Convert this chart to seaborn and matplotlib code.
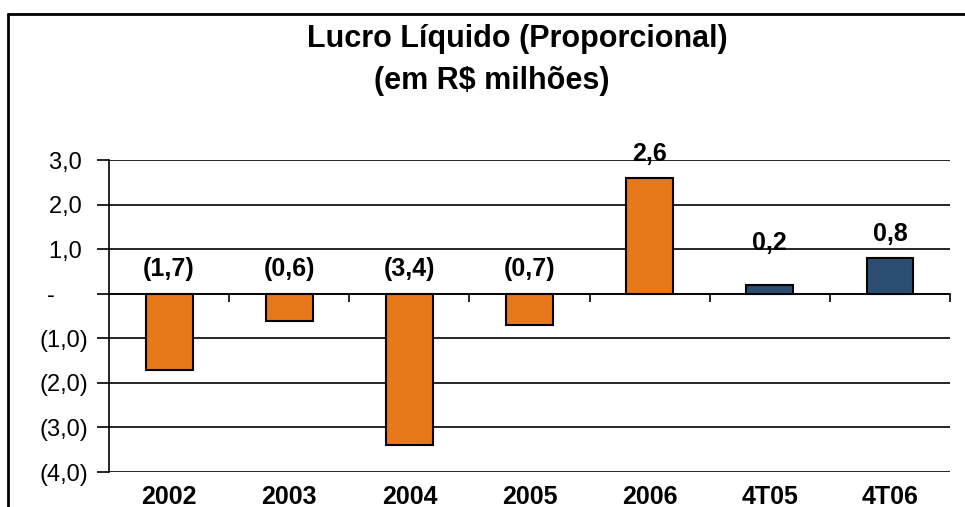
import matplotlib
matplotlib.use('Agg')
import matplotlib.pyplot as plt
from matplotlib.lines import Line2D
import seaborn as sns
import pandas as pd

# Dados do gráfico (R$ milhões)
categorias = ['2002', '2003', '2004', '2005', '2006', '4T05', '4T06']
valores = [-1.7, -0.6, -3.4, -0.7, 2.6, 0.2, 0.8]
grupos = ['ano', 'ano', 'ano', 'ano', 'ano', 'trimestre', 'trimestre']
rotulos = ['(1,7)', '(0,6)', '(3,4)', '(0,7)', '2,6', '0,2', '0,8']
yticks = [3, 2, 1, 0, -1, -2, -3, -4]
ytick_labels = ['3,0 ', '2,0 ', '1,0 ', '-     ', '(1,0)', '(2,0)', '(3,0)', '(4,0)']

cores = {'ano': '#E8791A', 'trimestre': '#2A4E72'}

df = pd.DataFrame({'categoria': categorias, 'valor': valores, 'grupo': grupos})

sns.set_style('white')
plt.rcParams['font.family'] = ['Liberation Sans', 'DejaVu Sans']
plt.rcParams['text.color'] = 'black'
plt.rcParams['xtick.color'] = 'black'
plt.rcParams['ytick.color'] = 'black'
plt.rcParams['axes.edgecolor'] = 'black'

fig = plt.figure(figsize=(9.65, 5.07), dpi=100)
ax = fig.add_axes([0.113, 0.069, 0.8715, 0.615])

sns.barplot(data=df, x='categoria', y='valor', hue='grupo', palette=cores,
            order=categorias, dodge=False, width=0.39, legend=False,
            saturation=1, edgecolor='black', linewidth=1.5, ax=ax, zorder=3)

ax.set_ylim(-4, 3)
ax.set_xlim(-0.5, len(categorias) - 0.5)
ax.set_yticks(yticks)
ax.set_yticklabels(ytick_labels, fontsize=17)
ax.tick_params(axis='y', direction='out', length=9, width=1.2, pad=6, left=True)
ax.yaxis.grid(True, color='black', linewidth=1.2, zorder=0)
ax.set_axisbelow(True)

for s in ['top', 'right']:
    ax.spines[s].set_visible(False)
ax.spines['left'].set_linewidth(1.2)
ax.spines['bottom'].set_position(('data', 0))
ax.spines['bottom'].set_linewidth(1.2)
ax.spines['bottom'].set_zorder(4)

# marcas entre categorias no eixo zero
ax.set_xticks([i + 0.5 for i in range(len(categorias))], minor=True)
ax.set_xticks(range(len(categorias)))
ax.set_xticklabels([])
ax.tick_params(axis='x', which='minor', direction='out', length=6, width=1.2, bottom=True)
ax.tick_params(axis='x', which='major', length=0)
ax.set_xlabel('')
ax.set_ylabel('')

# rótulos das categorias embaixo
sec = ax.secondary_xaxis('bottom')
sec.set_xticks(range(len(categorias)))
sec.set_xticklabels(categorias, fontsize=18, fontweight='bold')
sec.tick_params(length=0, pad=9)
sec.spines['bottom'].set_visible(False)

# rótulos de dados
for i, (v, r) in enumerate(zip(valores, rotulos)):
    base = 0 if v < 0 else max(v, 0.6)
    ax.annotate(r, (i, base), xytext=(0, 9), textcoords='offset points',
                ha='center', va='bottom', fontsize=18, fontweight='bold')

fig.text(0.536, 0.923, 'Lucro Líquido (Proporcional)', ha='center', va='center',
         fontsize=22, fontweight='bold')
fig.text(0.51, 0.84, '(em R$ milhões)', ha='center', va='center',
         fontsize=22, fontweight='bold')

# moldura
fig.add_artist(Line2D([0.0085, 0.0085], [0, 0.972], color='black', linewidth=2))
fig.add_artist(Line2D([0.0085, 1.0], [0.972, 0.972], color='black', linewidth=2))

fig.savefig('out.png', dpi=100)
